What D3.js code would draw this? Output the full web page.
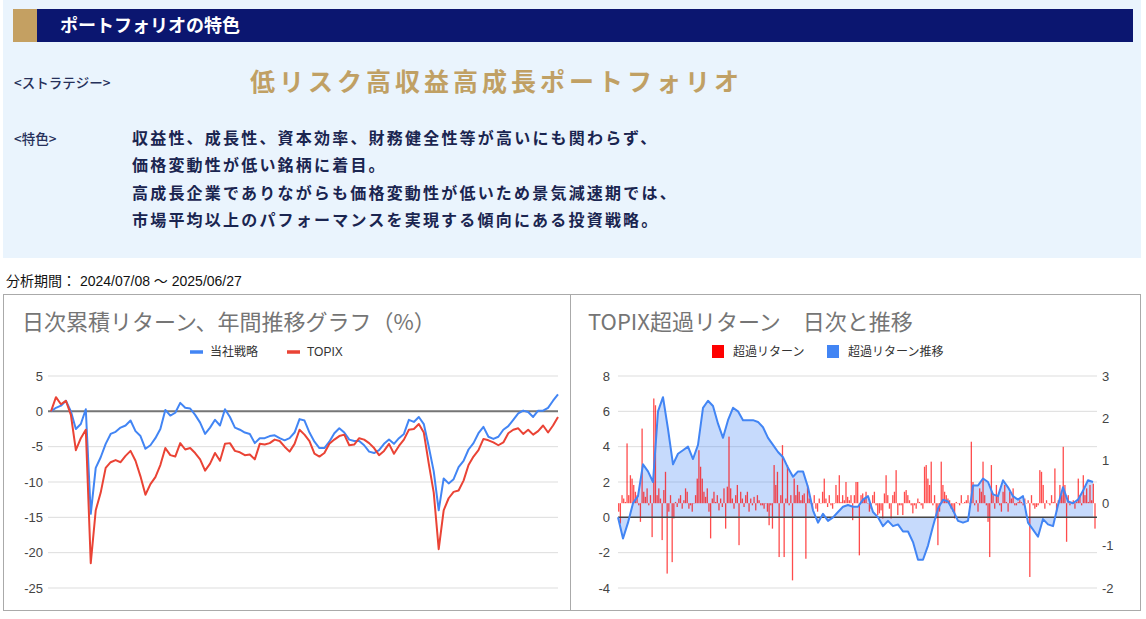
<!DOCTYPE html>
<html><head><meta charset="utf-8">
<script src="https://cdn.jsdelivr.net/npm/d3@7"></script>
<style>
body{margin:0;background:#fff;}
svg text{font-family:"Liberation Sans","Noto Sans CJK JP",sans-serif;}
.jp{font-family:"Noto Sans CJK JP","Liberation Sans",sans-serif !important;}
</style></head><body><svg id="c" width="1146" height="619"></svg>
<script>
// ---------- DATA ----------
const headerTitle = "ポートフォリオの特色";
const strategyLabel = "<ストラテジー>";
const strategyName = "低リスク高収益高成長ポートフォリオ";
const featureLabel = "<特色>";
const featureLines = [
  "収益性、成長性、資本効率、財務健全性等が高いにも関わらず、",
  "価格変動性が低い銘柄に着目。",
  "高成長企業でありながらも価格変動性が低いため景気減速期では、",
  "市場平均以上のパフォーマンスを実現する傾向にある投資戦略。"
];
const periodText = "分析期間： 2024/07/08 〜 2025/06/27";

const leftTitle = "日次累積リターン、年間推移グラフ（%）";
const leftSeriesNames = ["当社戦略", "TOPIX"];
const leftTicks = [5, 0, -5, -10, -15, -20, -25];
const strategy = [
  0, 0.5, 0.8, 1.5, 0.0, -2.5, -1.8, 0.3, -14.5, -8.0, -6.5, -4.6, -3.2, -2.9, -2.3, -2.0, -1.3, -2.8, -3.5, -5.3,
  -4.8, -3.8, -2.5, 0.2, -0.6, -0.2, 1.2, 0.5, 0.4, -0.5, -1.6, -3.2, -2.3, -1.2, -2.0, 0.3, -0.8, -2.3, -2.6, -3.0,
  -3.2, -4.5, -3.8, -3.8, -3.5, -3.4, -3.8, -4.1, -3.8, -3.0, -1.1,
  -1.3, -3.0, -4.3, -5.2, -5.2, -4.3, -3.1, -2.4, -3.0, -4.0, -4.2, -4.2, -4.8, -5.7, -5.9, -5.5, -4.6, -4.0, -4.6, -3.8,
  -3.2, -1.2, -1.5, -0.8, -1.8, -5.0, -8.5, -14.0, -9.5, -10.2, -9.6, -7.9, -7.0, -5.4, -4.5, -3.1, -2.2, -3.6, -3.9, -3.6,
  -2.6, -2.1, -1.2, -0.3, 0.1, -0.1, -0.8, 0.1, 0.1, 0.5, 1.5, 2.4
];
const topix = [
  0, 2.0, 1.0, 1.5, -0.5, -5.5, -3.8, -2.6, -21.5, -14.0, -11.5, -8.0, -7.2, -6.9, -7.2, -6.3, -5.6, -7.0, -9.2, -11.8,
  -10.3, -9.3, -7.6, -5.2, -6.2, -6.4, -4.5, -5.4, -5.2, -5.9, -6.8, -8.4, -7.4, -5.9, -7.0, -4.6, -4.5, -5.6, -5.8, -6.2,
  -6.1, -6.8, -4.6, -4.7, -4.5, -4.0, -4.2, -5.0, -5.7, -4.6, -2.6,
  -3.3, -4.2, -6.0, -6.4, -5.9, -4.6, -4.0, -3.5, -3.3, -4.8, -4.7, -3.8, -4.0, -4.5, -5.2, -6.2, -5.6, -4.6, -6.0, -4.9,
  -4.0, -2.6, -2.5, -1.8, -3.0, -7.4, -11.5, -19.5, -14.0, -12.3, -11.4, -11.2, -9.8, -7.6, -6.4, -5.5, -3.9, -4.1, -4.4, -4.8,
  -4.4, -3.1, -2.6, -2.4, -3.2, -2.6, -3.3, -2.8, -2.0, -3.0, -2.0, -0.8
];

const rightTitle = "TOPIX超過リターン　日次と推移";
const rightSeriesNames = ["超過リターン", "超過リターン推移"];
const cumTicks = [8, 6, 4, 2, 0, -2, -4];
const dailyTicks = [3, 2, 1, 0, -1, -2];
const excessCum = [
  0, -1.2, -0.3, 0.8, 1.2, 3.0, 2.6, 2.0, 6.0, 6.8, 5.0, 3.0, 3.6, 3.8, 4.0, 3.3, 4.1, 6.2, 6.6, 6.3,
  5.3, 4.5, 5.5, 6.2, 6.0, 5.5, 5.5, 5.5, 5.4, 5.1, 4.5, 4.1, 3.7, 3.4, 2.8, 2.3, 2.6, 2.6, 1.7, 0.4,
  -0.3, 0.2, -0.2, 0, 0.3, 0.6, 0.7, 0.6,
  0.6, 1.0, 1.2, 0.3, 0, -0.5, -0.2, -0.5, -0.4, -0.8, -0.8, -1.4, -2.4, -2.4, -1.6, -0.5, 0.5, 1.0, 0.9, 0.4,
  -0.2, -0.3, -0.2, 1.8, 1.8, 2.2, 2.0, 1.3, 1.2, 2.1, 1.7, 1.2, 1.0, 1.2, -0.3, -0.7, -1.1, -0.1, -0.4, -0.5,
  0.7, 1.7, 0.9, 0.8, 1.0, 1.5, 2.1, 2.0
];
const excessDaily = [
  -0.20,-0.48,0.19,0.11,0.03,1.41,0.19,0.66,0.58,0.43,
  0.27,0.19,-0.05,-0.44,1.76,0.27,0.15,0.35,-0.05,0.19,
  -0.80,2.47,2.31,0.19,0.35,0.11,-0.87,0.31,0.74,-1.66,
  -0.20,0.19,-1.39,-0.36,0.03,-0.09,0.11,0.19,-0.13,0.07,
  0.35,0.27,-0.13,-0.05,-0.20,-0.01,0.19,0.58,1.25,0.86,
  0.58,0.27,0.15,0.35,-0.20,-0.83,0.11,0.27,0.03,0.19,
  -0.17,0.11,-0.09,0.35,-0.60,0.39,1.57,0.35,0.11,-0.13,
  0.19,0.43,-0.99,0.27,0.11,-0.09,0.19,0.27,-0.20,0.11,
  -0.05,0.15,-0.17,0.19,0.07,-0.05,-0.05,-0.13,-0.01,-0.20,
  -0.52,-0.05,-0.60,0.90,0.43,0.74,-1.27,0.19,1.37,-1.27,
  0.11,0.90,-0.05,0.19,-1.82,0.58,0.19,0.43,0.27,0.07,
  0.19,0.23,-1.31,0.43,0.11,-0.01,-0.13,0.19,-0.13,-0.20,
  0.11,-0.01,0.27,0.58,0.11,-0.09,0.19,-0.05,-0.13,-0.01,
  0.43,0.19,0.66,0.03,0.19,0.07,0.50,0.15,0.07,0.19,
  -0.40,0.19,0.50,
  0.50,-1.23,0.19,0.23,0.11,0.27,-0.01,-0.20,-0.13,0.19,
  0.27,-0.05,-0.28,-0.24,-0.17,-0.36,0.23,0.66,0.19,-0.13,
  -0.36,0.19,0.27,0.78,-0.28,-0.05,-0.05,-0.28,0.27,0.31,
  0.19,0.07,-0.05,-0.24,-0.05,-0.13,0.11,0.03,-0.05,-0.13,
  0.86,0.90,0.58,0.43,0.98,-0.05,0.19,-0.36,-0.99,-0.20,
  0.98,0.43,0.27,0.19,0.11,0.07,-0.13,-0.20,-0.36,0.03,
  -0.01,-0.05,0.19,-0.01,0.03,0.07,0.19,-0.01,1.45,0.50,
  -0.05,0.07,-0.20,0.35,0.27,0.98,0.19,-0.05,-0.44,-1.27,
  0.90,0.19,-0.13,0.43,0.19,-0.05,-0.20,0.27,0.43,0.03,
  -0.20,0.27,0.11,0.35,-0.05,-0.05,0.03,0.07,0.03,-0.05,
  0.11,-0.01,0.07,-1.74,0.19,-0.05,-0.13,-0.09,-0.05,0.78,
  0.74,0.43,-0.13,0.07,-0.01,-0.05,0.19,0.03,0.82,-0.20,
  0.07,0.43,0.19,1.33,0.43,-0.91,0.19,-0.05,-0.01,0.07,
  -0.13,0.03,0.58,0.19,-0.05,0.66,0.19,0.35,0.03,0.43,
  0.07,0.46,-0.60
];

// ---------- DRAW ----------
const svg = d3.select("#c");
const BLUE = "#4285f4", RED = "#ea4335";

// top panel
svg.append("rect").attr("x", 3).attr("y", 0).attr("width", 1138).attr("height", 258).attr("fill", "#eaf4fd");
svg.append("rect").attr("x", 13).attr("y", 9).attr("width", 24).attr("height", 33).attr("fill", "#c4a062");
svg.append("rect").attr("x", 37).attr("y", 9).attr("width", 1096).attr("height", 33).attr("fill", "#0b1670");
svg.append("text").attr("class", "jp").attr("x", 60).attr("y", 26).attr("dy", "0.35em")
  .attr("font-size", 18).attr("font-weight", "bold").attr("fill", "#fff").text(headerTitle);
svg.append("text").attr("class", "jp").attr("x", 14).attr("y", 83).attr("dy", "0.35em")
  .attr("font-size", 13.5).attr("font-weight", 500).attr("fill", "#26305a").text(strategyLabel);
svg.append("text").attr("class", "jp").attr("x", 250).attr("y", 82).attr("dy", "0.35em")
  .attr("font-size", 25).attr("font-weight", "bold").attr("letter-spacing", 4).attr("fill", "#c0a064").text(strategyName);
svg.append("text").attr("class", "jp").attr("x", 14).attr("y", 139).attr("dy", "0.35em")
  .attr("font-size", 13.5).attr("font-weight", 500).attr("fill", "#26305a").text(featureLabel);
svg.selectAll("text.feat").data(featureLines).join("text").attr("class", "feat jp")
  .attr("x", 132).attr("y", (d, i) => 138 + i * 27.5).attr("dy", "0.35em")
  .attr("font-size", 16).attr("font-weight", "bold").attr("letter-spacing", 2.2).attr("fill", "#1a2550").text(d => d);

svg.append("text").attr("x", 6).attr("y", 281).attr("dy", "0.35em").attr("font-size", 14).attr("fill", "#111").text(periodText);

// chart frames
svg.append("rect").attr("x", 3.5).attr("y", 294.5).attr("width", 1137).attr("height", 316)
  .attr("fill", "none").attr("stroke", "#aaa");
svg.append("line").attr("x1", 570.5).attr("x2", 570.5).attr("y1", 294.5).attr("y2", 610.5).attr("stroke", "#aaa");

// ----- left chart -----
const L = {x0: 48, x1: 558, top: 376, bottom: 588};
const yL = d3.scaleLinear().domain([-25, 5]).range([L.bottom, L.top]);
const xL = d3.scaleLinear().domain([0, strategy.length - 1]).range([51, 558]);
svg.append("text").attr("class", "jp").attr("x", 22).attr("y", 322).attr("dy", "0.35em")
  .attr("font-size", 22).attr("fill", "#757575").text(leftTitle);
const gL = svg.append("g");
gL.selectAll("line.g").data(leftTicks.filter(t => t !== 0)).join("line").attr("class", "g")
  .attr("x1", L.x0).attr("x2", L.x1).attr("y1", d => yL(d)).attr("y2", d => yL(d)).attr("stroke", "#ddd");
gL.selectAll("text.t").data(leftTicks).join("text").attr("class", "t")
  .attr("x", 43).attr("y", d => yL(d)).attr("dy", "0.35em").attr("text-anchor", "end")
  .attr("font-size", 13).attr("fill", "#444").text(d => d);
gL.append("line").attr("x1", L.x0).attr("x2", L.x1).attr("y1", yL(0)).attr("y2", yL(0))
  .attr("stroke", "#757575").attr("stroke-width", 2);
const lineL = d3.line().x((d, i) => xL(i)).y(d => yL(d));
gL.append("path").datum(strategy).attr("d", lineL).attr("fill", "none").attr("stroke", BLUE).attr("stroke-width", 2).attr("stroke-linejoin", "round");
gL.append("path").datum(topix).attr("d", lineL).attr("fill", "none").attr("stroke", RED).attr("stroke-width", 2).attr("stroke-linejoin", "round");
// legend
const legL = [{n: leftSeriesNames[0], c: BLUE, x: 190}, {n: leftSeriesNames[1], c: RED, x: 287}];
legL.forEach(o => {
  svg.append("line").attr("x1", o.x).attr("x2", o.x + 13).attr("y1", 352).attr("y2", 352).attr("stroke", o.c).attr("stroke-width", 3.5);
  svg.append("text").attr("x", o.x + 20).attr("y", 352).attr("dy", "0.35em").attr("font-size", 12).attr("fill", "#333").text(o.n);
});

// ----- right chart -----
const R = {x0: 618, x1: 1097, top: 376, bottom: 588};
const yC = d3.scaleLinear().domain([-4, 8]).range([R.bottom, R.top]);
const yD = d3.scaleLinear().domain([-2, 3]).range([R.bottom, R.top]);
const xC = d3.scaleLinear().domain([0, excessCum.length - 1]).range([618, 1093]);
const xD = d3.scaleLinear().domain([0, excessDaily.length - 1]).range([618.7, 1095]);
svg.append("text").attr("class", "jp").attr("x", 588).attr("y", 322).attr("dy", "0.35em")
  .attr("font-size", 22).attr("fill", "#757575").text(rightTitle);
const gR = svg.append("g");
gR.selectAll("line.g").data(cumTicks).join("line").attr("class", "g")
  .attr("x1", R.x0).attr("x2", R.x1).attr("y1", d => yC(d)).attr("y2", d => yC(d)).attr("stroke", "#ddd");
gR.selectAll("text.tl").data(cumTicks).join("text").attr("class", "tl")
  .attr("x", 610).attr("y", d => yC(d)).attr("dy", "0.35em").attr("text-anchor", "end")
  .attr("font-size", 13).attr("fill", "#444").text(d => d);
gR.selectAll("text.tr").data(dailyTicks).join("text").attr("class", "tr")
  .attr("x", 1102).attr("y", d => yD(d)).attr("dy", "0.35em").attr("text-anchor", "start")
  .attr("font-size", 13).attr("fill", "#444").text(d => d);
// area
const area = d3.area().x((d, i) => xC(i)).y0(yC(0)).y1(d => yC(d));
gR.append("path").datum(excessCum).attr("d", area).attr("fill", BLUE).attr("fill-opacity", 0.3);
// bars
gR.selectAll("rect.bar").data(excessDaily).join("rect").attr("class", "bar")
  .attr("x", (d, i) => xD(i) - 0.65).attr("width", 1.3)
  .attr("y", d => Math.min(yD(d), yD(0))).attr("height", d => Math.abs(yD(d) - yD(0)))
  .attr("fill", "#ff0000").attr("fill-opacity", 0.7);
gR.append("line").attr("x1", R.x0).attr("x2", R.x1).attr("y1", yC(0)).attr("y2", yC(0))
  .attr("stroke", "#444").attr("stroke-width", 1.5);
gR.append("path").datum(excessCum).attr("d", d3.line().x((d, i) => xC(i)).y(d => yC(d)))
  .attr("fill", "none").attr("stroke", BLUE).attr("stroke-width", 2).attr("stroke-linejoin", "round");
// legend
const legR = [{n: rightSeriesNames[0], c: "#ff0000", x: 712}, {n: rightSeriesNames[1], c: BLUE, x: 827}];
legR.forEach(o => {
  svg.append("rect").attr("x", o.x).attr("y", 345).attr("width", 12).attr("height", 13).attr("fill", o.c);
  svg.append("text").attr("x", o.x + 21).attr("y", 352).attr("dy", "0.35em").attr("font-size", 12).attr("fill", "#333").text(o.n);
});
</script></body></html>
